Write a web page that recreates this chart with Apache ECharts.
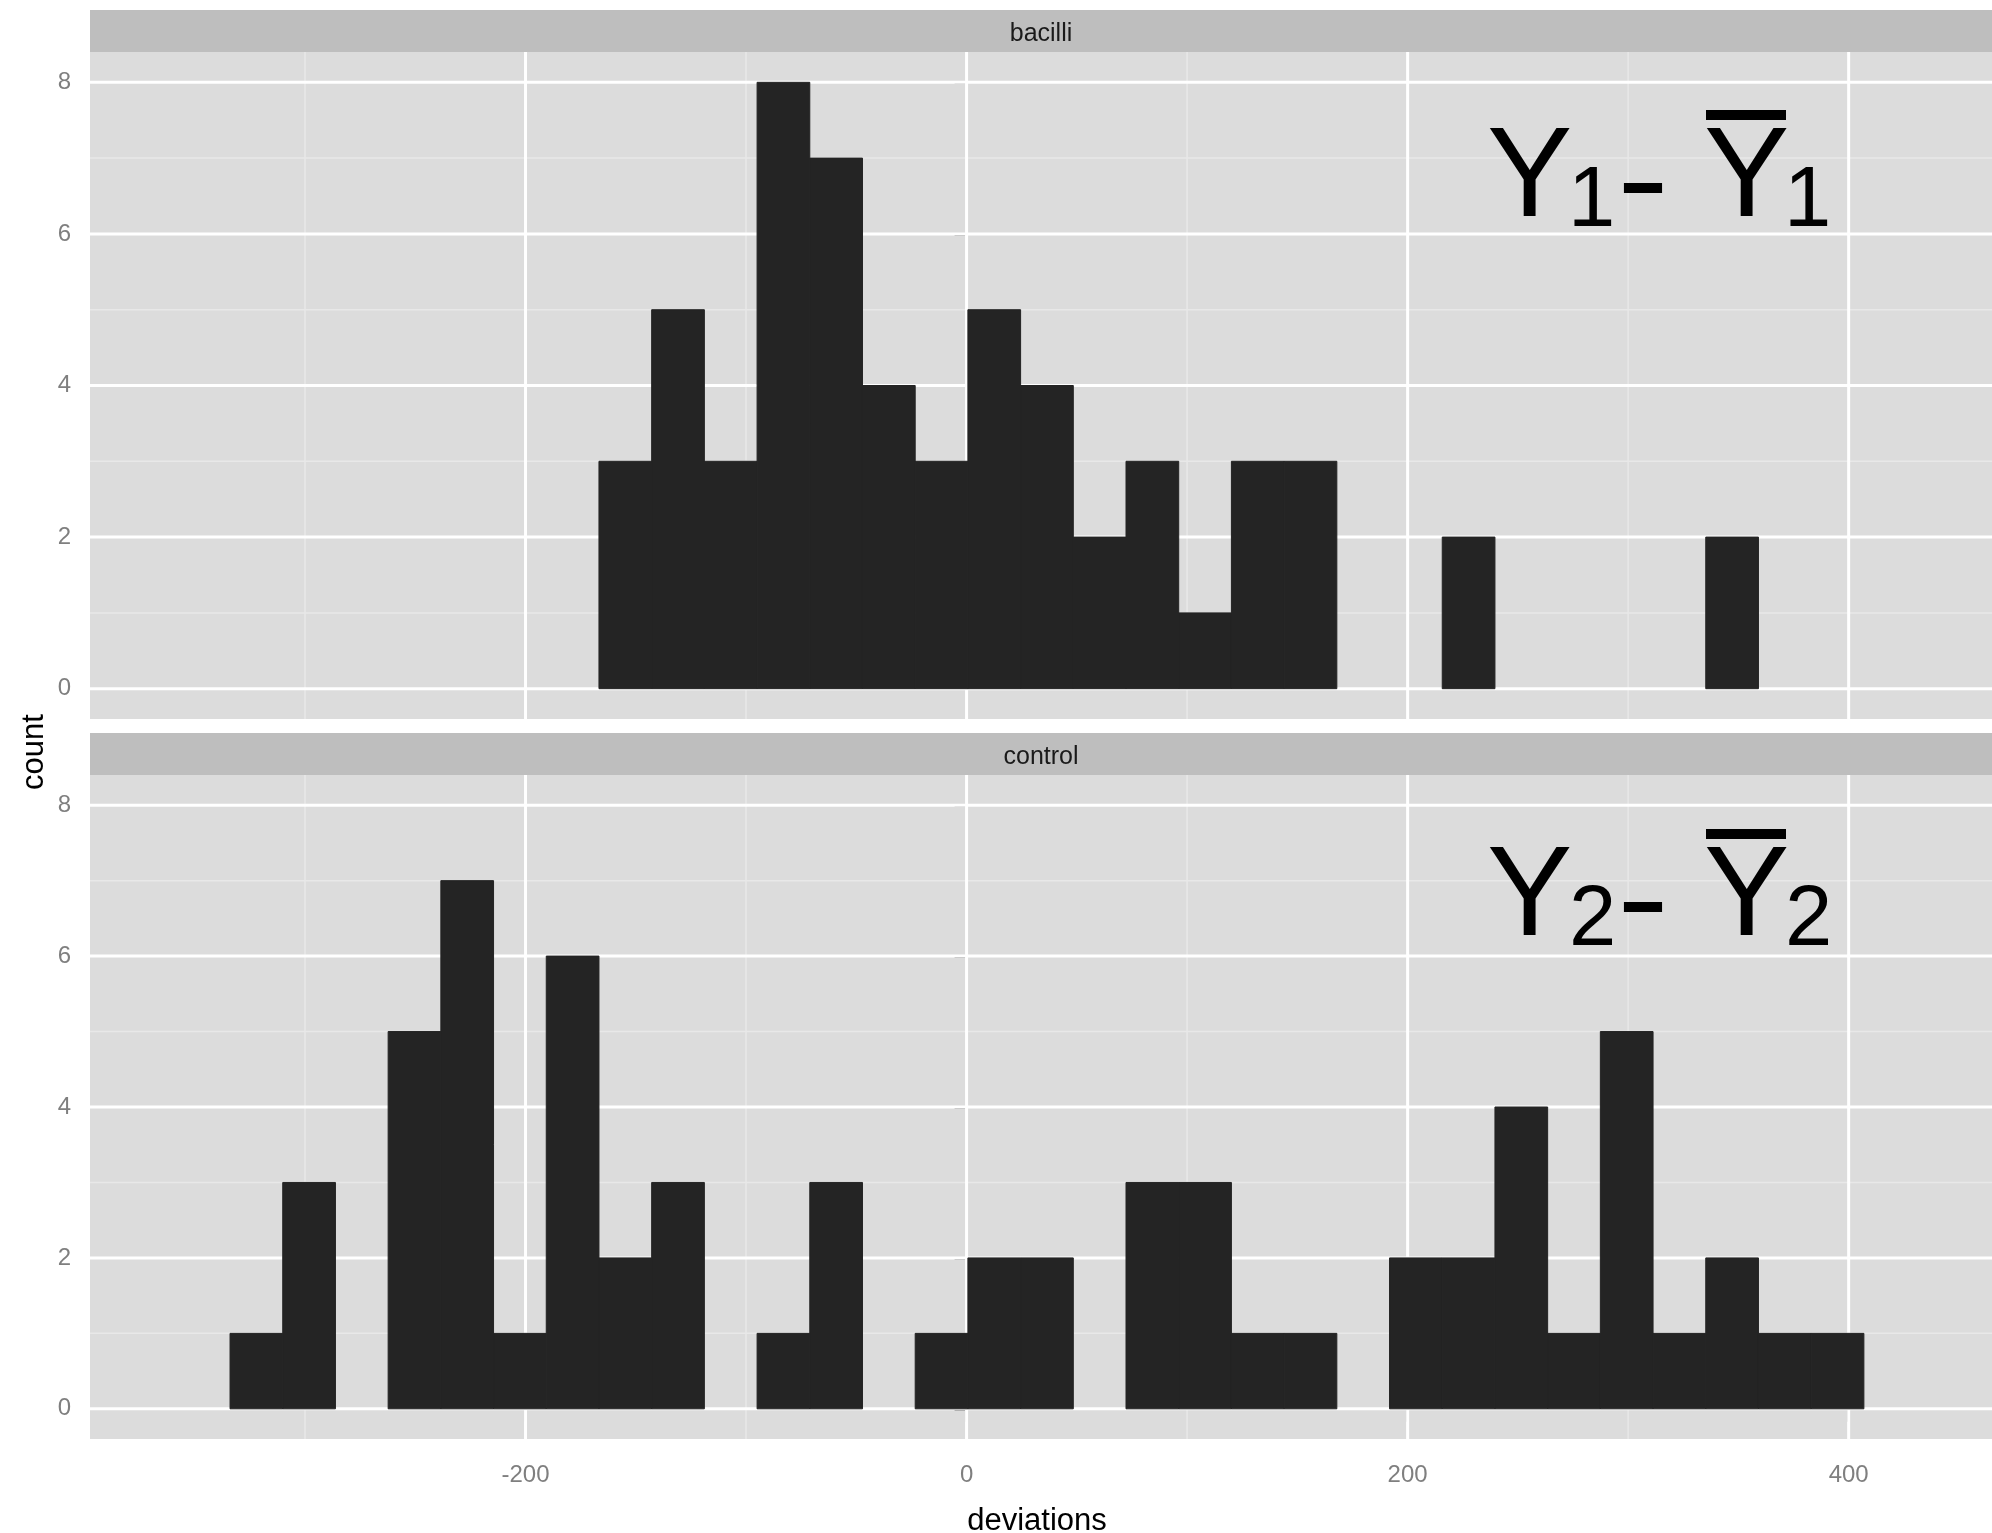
<!DOCTYPE html>
<html>
<head>
<meta charset="utf-8">
<style>
  html, body { margin: 0; padding: 0; background: #fff; }
  #chart1 { width: 1992px; height: 1533px; }
</style>
</head>
<body>
<div id="chart1"></div>
<script src="https://cdn.jsdelivr.net/npm/echarts@6/dist/echarts.min.js"></script>
<script>
  // histogram bins (same bins for both facets)
  const binStart = -334;
  const binWidth = 23.9;
  const facets = ['bacilli', 'control'];
  const bacilliCounts = [0,0,0,0,0,0,0, 3,5,3,8,7,4,3,5,4,2,3,1,3,3, 0,0,2, 0,0,0,0, 2, 0,0];
  const controlCounts = [1,3,0,5,7,1,6,2,3,0,1,3,0,1,2,2,0,3,3,1,1,0,2,2,4,1,5,1,2,1,1];

  // ticks / grid lines
  const xTicks = [-200, 0, 200, 400];
  const xMinor = [-300, -100, 100, 300];
  const yTicks = [0, 2, 4, 6, 8];
  const yMinor = [1, 3, 5, 7];

  const FONT = 'Liberation Sans, Arial, Helvetica, sans-serif';
  const grids = [
    { left: 90, right: 0, top: 52, height: 667 },
    { left: 90, right: 0, top: 775, height: 664 }
  ];

  function binData(counts) {
    let out = [];
    for (let i = 0; i < counts.length; i++) {
      if (counts[i] > 0) {
        out.push([binStart + i * binWidth, binStart + (i + 1) * binWidth, counts[i]]);
      }
    }
    return out;
  }

  function renderBar(params, api) {
    let p0 = api.coord([api.value(0), api.value(2)]);
    let p1 = api.coord([api.value(1), 0]);
    return {
      type: 'rect',
      shape: { x: p0[0], y: p0[1], width: p1[0] - p0[0], height: p1[1] - p0[1] },
      style: { fill: '#242424', stroke: '#242424', lineWidth: 1 }
    };
  }

  function vLine(width, color) {
    return function (params, api) {
      let x = api.coord([api.value(0), 0])[0];
      let cs = params.coordSys;
      return { type: 'line', silent: true,
        shape: { x1: x, y1: cs.y, x2: x, y2: cs.y + cs.height },
        style: { stroke: color, lineWidth: width } };
    };
  }
  function hLine(width, color) {
    return function (params, api) {
      let y = api.coord([0, api.value(1)])[1];
      let cs = params.coordSys;
      return { type: 'line', silent: true,
        shape: { x1: cs.x, y1: y, x2: cs.x + cs.width, y2: y },
        style: { stroke: color, lineWidth: width } };
    };
  }

  let series = [];
  let xAxes = [];
  let yAxes = [];
  [bacilliCounts, controlCounts].forEach(function (counts, g) {
    xAxes.push({
      type: 'value', gridIndex: g, min: -397.5, max: 465,
      axisLine: { show: false }, splitLine: { show: false },
      axisTick: { show: g === 1, customValues: xTicks, length: 13, lineStyle: { color: '#7f7f7f', width: 2.5 } },
      axisLabel: { show: g === 1, customValues: xTicks, color: '#7f7f7f', fontSize: 24, fontFamily: FONT, margin: 24 }
    });
    yAxes.push({
      type: 'value', gridIndex: g, min: -0.4, max: 8.4,
      axisLine: { show: false }, splitLine: { show: false },
      axisTick: { show: true, customValues: yTicks, length: 12, lineStyle: { color: '#7f7f7f', width: 2.5 } },
      axisLabel: { customValues: yTicks, color: '#7f7f7f', fontSize: 24, fontFamily: FONT, margin: 19 }
    });
    series.push(
      { type: 'custom', xAxisIndex: g, yAxisIndex: g, z: 1, silent: true, renderItem: hLine(1.5, '#e8e8e8'),
        data: yMinor.map(function (v) { return [0, v]; }) },
      { type: 'custom', xAxisIndex: g, yAxisIndex: g, z: 1, silent: true, renderItem: vLine(1.5, '#e8e8e8'),
        data: xMinor.map(function (v) { return [v, 0]; }) },
      { type: 'custom', xAxisIndex: g, yAxisIndex: g, z: 1, silent: true, renderItem: hLine(3, '#ffffff'),
        data: yTicks.map(function (v) { return [0, v]; }) },
      { type: 'custom', xAxisIndex: g, yAxisIndex: g, z: 1, silent: true, renderItem: vLine(3, '#ffffff'),
        data: xTicks.map(function (v) { return [v, 0]; }) },
      { type: 'custom', name: facets[g], xAxisIndex: g, yAxisIndex: g, z: 2, renderItem: renderBar,
        encode: { x: [0, 1], y: 2 }, data: binData(counts) }
    );
  });

  // text helper: place by baseline
  function txt(str, x, base, size, extra) {
    let e = {
      type: 'text', z: 100,
      style: { text: str, x: x, y: base - 0.31 * size, fontSize: size, fontFamily: FONT, fill: '#000',
        textAlign: 'left', textVerticalAlign: 'middle', align: 'left', verticalAlign: 'middle' }
    };
    return Object.assign(e, extra || {});
  }

  let graphics = [];
  // facet strips
  graphics.push(
    { type: 'rect', z: 50, shape: { x: 90, y: 10, width: 1902, height: 42 }, style: { fill: '#bebebe' } },
    { type: 'text', z: 51, style: { text: facets[0], x: 1041, y: 34, fontSize: 25, fontFamily: FONT, fill: '#1a1a1a',
      textAlign: 'center', textVerticalAlign: 'middle', align: 'center', verticalAlign: 'middle' } },
    { type: 'rect', z: 50, shape: { x: 90, y: 733, width: 1902, height: 42 }, style: { fill: '#bebebe' } },
    { type: 'text', z: 51, style: { text: facets[1], x: 1041, y: 757, fontSize: 25, fontFamily: FONT, fill: '#1a1a1a',
      textAlign: 'center', textVerticalAlign: 'middle', align: 'center', verticalAlign: 'middle' } }
  );
  // axis titles
  graphics.push(
    { type: 'text', z: 51, style: { text: 'deviations', x: 1037, y: 1531 - 0.31 * 31, fontSize: 31, fontFamily: FONT, fill: '#000',
      textAlign: 'center', textVerticalAlign: 'middle', align: 'center', verticalAlign: 'middle' } },
    { type: 'text', z: 51, x: 34, y: 752, rotation: Math.PI / 2,
      style: { text: 'count', x: 0, y: 0, fontSize: 31, fontFamily: FONT, fill: '#000',
        textAlign: 'center', textVerticalAlign: 'middle', align: 'center', verticalAlign: 'middle' } }
  );
  // annotations  Y1 - Ybar1 , Y2 - Ybar2
  [[220, 229, '1', 110], [939, 948, '2', 829]].forEach(function (a) {
    let base = a[0], subBase = a[1], sub = a[2], barY = a[3];
    let subX1 = sub === '1' ? 1568 : 1569;
    let subX2 = sub === '1' ? 1784 : 1785;
    graphics.push(
      txt('Y', 1487, base, 128),
      txt(sub, subX1, subBase, 85),
      txt('-', 1617, base + 6, 128, { scaleX: 1.22, originX: 1617 }),
      txt('Y', 1704, base, 128),
      { type: 'rect', z: 100, shape: { x: 1706, y: barY, width: 80, height: 10 }, style: { fill: '#000' } },
      txt(sub, subX2, subBase, 85)
    );
  });

  let myChart = echarts.init(document.getElementById('chart1'));
  let option = {
    backgroundColor: '#ffffff',
    animation: false,
    grid: grids.map(function (g) {
      return Object.assign({ show: true, backgroundColor: '#dcdcdc', borderWidth: 0 }, g);
    }),
    xAxis: xAxes,
    yAxis: yAxes,
    series: series,
    graphic: { elements: graphics }
  };
  myChart.setOption(option);
</script>
</body>
</html>
